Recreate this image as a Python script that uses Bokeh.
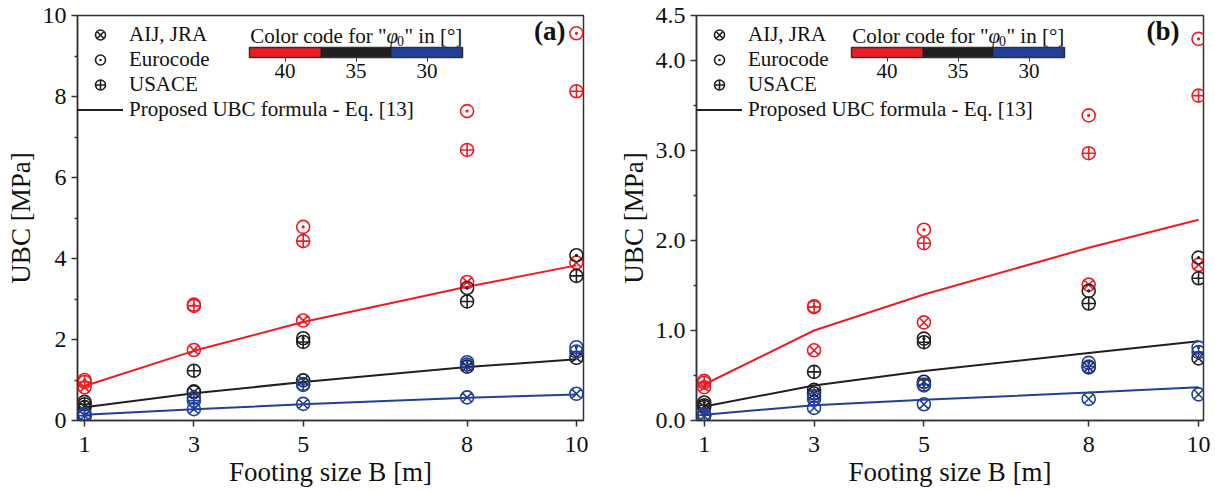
from bokeh.plotting import figure
from bokeh.layouts import row
from bokeh.models import (FixedTicker, Legend, LegendItem, Label, ColorBar,
                          CategoricalColorMapper, Range1d, PrintfTickFormatter)
from bokeh.embed import file_html
from bokeh.resources import INLINE

FONT = "Liberation Serif"
RED = "#ED1C24"
BLACK = "#231F20"
BLUE = "#21409A"
AX = "#333333"

# ---------------- data ----------------
B = [1, 3, 5, 8, 10]
x_ticks = [1, 3, 5, 8, 10]
phi_labels = ["40", "35", "30"]
phi_colors = [RED, BLACK, BLUE]

# panel (a)
aij_a_40 = [0.82, 1.74, 2.47, 3.42, 3.90]
euro_a_40 = [1.00, 2.86, 4.78, 7.64, 9.56]
usace_a_40 = [0.95, 2.83, 4.43, 6.68, 8.13]
prop_a_40 = [0.85, 1.72, 2.43, 3.30, 3.83]

aij_a_35 = [0.33, 0.70, 0.99, 1.33, 1.55]
euro_a_35 = [0.46, 0.72, 2.03, 3.27, 4.08]
usace_a_35 = [0.40, 1.23, 1.94, 2.94, 3.57]
prop_a_35 = [0.33, 0.67, 0.95, 1.32, 1.51]

aij_a_30 = [0.12, 0.28, 0.41, 0.57, 0.66]
euro_a_30 = [0.16, 0.56, 0.88, 1.44, 1.81]
usace_a_30 = [0.12, 0.49, 0.90, 1.38, 1.70]
prop_a_30 = [0.14, 0.28, 0.40, 0.56, 0.64]

# panel (b)
aij_b_40 = [0.37, 0.78, 1.09, 1.51, 1.73]
euro_b_40 = [0.44, 1.27, 2.12, 3.39, 4.24]
usace_b_40 = [0.42, 1.26, 1.97, 2.97, 3.61]
prop_b_40 = [0.40, 1.00, 1.40, 1.92, 2.23]

aij_b_35 = [0.15, 0.30, 0.43, 0.59, 0.69]
euro_b_35 = [0.20, 0.34, 0.91, 1.44, 1.81]
usace_b_35 = [0.17, 0.54, 0.87, 1.30, 1.58]
prop_b_35 = [0.155, 0.39, 0.55, 0.75, 0.88]

aij_b_30 = [0.05, 0.14, 0.18, 0.24, 0.29]
euro_b_30 = [0.07, 0.27, 0.39, 0.64, 0.81]
usace_b_30 = [0.06, 0.24, 0.40, 0.60, 0.76]
prop_b_30 = [0.063, 0.17, 0.23, 0.31, 0.37]

y_ticks_a = [0, 2, 4, 6, 8, 10]
y_minor_a = [1, 3, 5, 7, 9]
y_ticks_b = [0, 1, 2, 3, 4, 4.5]
y_minor_b = [0.5, 1.5, 2.5, 3.5]

legend_labels = ["AIJ, JRA", "Eurocode", "USACE", "Proposed UBC formula - Eq. [13]"]


def make_panel(tag, series, ymax, yticks, yminor, yfmt, width, left, right, xr,
               cbar_x, tag_x):
    p = figure(width=width, height=491, x_range=Range1d(*xr), y_range=Range1d(0, ymax),
               output_backend="svg", toolbar_location=None,
               min_border_left=left, min_border_right=right,
               min_border_top=15, min_border_bottom=71)
    p.xgrid.visible = False
    p.ygrid.visible = False
    p.outline_line_color = AX
    p.outline_line_width = 1.5
    p.background_fill_color = "white"
    p.border_fill_color = "white"

    # axes
    p.xaxis.ticker = FixedTicker(ticks=x_ticks)
    p.yaxis.ticker = FixedTicker(ticks=yticks, minor_ticks=yminor)
    if yfmt:
        p.yaxis.formatter = PrintfTickFormatter(format=yfmt)
    for ax in (p.xaxis, p.yaxis):
        ax.axis_line_color = AX
        ax.axis_line_width = 1.5
        ax.major_tick_line_color = AX
        ax.major_tick_line_width = 1.5
        ax.minor_tick_line_color = AX
        ax.minor_tick_line_width = 1.5
        ax.major_tick_out = 6
        ax.major_tick_in = 0
        ax.minor_tick_out = 3
        ax.minor_tick_in = 0
        ax.major_label_text_font = FONT
        ax.major_label_text_font_size = "24px"
        ax.major_label_text_color = "#111111"
        ax.axis_label_text_font = FONT
        ax.axis_label_text_font_size = "27px"
        ax.axis_label_text_font_style = "normal"
        ax.axis_label_text_color = "#111111"
    p.xaxis.major_label_standoff = 10
    p.yaxis.major_label_standoff = 5
    p.xaxis.minor_tick_line_color = None
    p.yaxis.axis_label = "UBC [MPa]"
    p.yaxis.axis_label_standoff = 4
    p.xaxis.axis_label = "Footing size B [m]"
    p.xaxis.axis_label_standoff = 2

    # data
    legend_refs = []
    for (aij, euro, usace, prop), col, phi in zip(series, phi_colors, phi_labels):
        r1 = p.scatter(B, aij, marker="circle_x", size=13, fill_color=None,
                       line_color=col, line_width=1.6)
        r2 = p.scatter(B, euro, marker="circle_dot", size=13, fill_color=None,
                       line_color=col, line_width=1.6)
        r3 = p.scatter(B, usace, marker="circle_cross", size=13, fill_color=None,
                       line_color=col, line_width=1.6)
        r4 = p.line(B, prop, line_color=col, line_width=2)
        if phi == "35":
            legend_refs = [r1, r2, r3, r4]

    legend = Legend(items=[LegendItem(label=l, renderers=[r])
                           for l, r in zip(legend_labels, legend_refs)],
                    location=(0, 298), margin=0, padding=5, spacing=0,
                    glyph_width=46, glyph_height=25, label_height=25,
                    label_standoff=6, label_text_font=FONT,
                    label_text_font_size="21px", label_text_color="#111111",
                    border_line_color=None, background_fill_alpha=0)
    p.add_layout(legend, "center")

    # colour code bar
    mapper = CategoricalColorMapper(factors=phi_labels, palette=phi_colors)
    cb = ColorBar(color_mapper=mapper, orientation="horizontal", width=213, height=10,
                  location=(cbar_x, 340), padding=0, margin=0,
                  major_label_text_font=FONT, major_label_text_font_size="21px",
                  major_label_text_color="#111111",
                  major_tick_out=4, major_tick_in=0, major_tick_line_color=AX,
                  label_standoff=2, bar_line_color=AX, bar_line_width=1.5,
                  background_fill_alpha=0, border_line_color=None)
    p.add_layout(cb, "center")

    fx = cbar_x + 137
    base_y = 385
    tstyle = dict(x_units="screen", y_units="screen", text_font=FONT,
                  text_color="#111111", text_baseline="alphabetic")
    p.add_layout(Label(x=fx, y=base_y, text='Color code for "', text_align="right",
                       text_font_size="21px", **tstyle))
    p.add_layout(Label(x=fx, y=base_y, text="\u03c6", text_align="left",
                       text_font_size="21px", text_font_style="italic", **tstyle))
    p.add_layout(Label(x=fx + 10.5, y=base_y - 5, text="0", text_align="left",
                       text_font_size="14px", **tstyle))
    p.add_layout(Label(x=fx + 18, y=base_y, text='" in [\u00b0]', text_align="left",
                       text_font_size="21px", **tstyle))

    # panel tag
    p.add_layout(Label(x=tag_x, y=390, text=tag, text_align="right",
                       text_baseline="middle", x_units="screen", y_units="screen",
                       text_font=FONT, text_font_size="27px", text_font_style="bold",
                       text_color="#111111"))
    return p


series_a = [(aij_a_40, euro_a_40, usace_a_40, prop_a_40),
            (aij_a_35, euro_a_35, usace_a_35, prop_a_35),
            (aij_a_30, euro_a_30, usace_a_30, prop_a_30)]
series_b = [(aij_b_40, euro_b_40, usace_b_40, prop_b_40),
            (aij_b_35, euro_b_35, usace_b_35, prop_b_35),
            (aij_b_30, euro_b_30, usace_b_30, prop_b_30)]

pa = make_panel("(a)", series_a, 10, y_ticks_a, y_minor_a, None,
                610, 77, 27, (0.87, 10.13), 172, 488)
pb = make_panel("(b)", series_b, 4.5, y_ticks_b, y_minor_b, "%.1f",
                605, 86, 12, (0.86, 10.09), 155, 483)

layout = row(pa, pb)
open("out.html", "w").write(file_html(layout, INLINE))
